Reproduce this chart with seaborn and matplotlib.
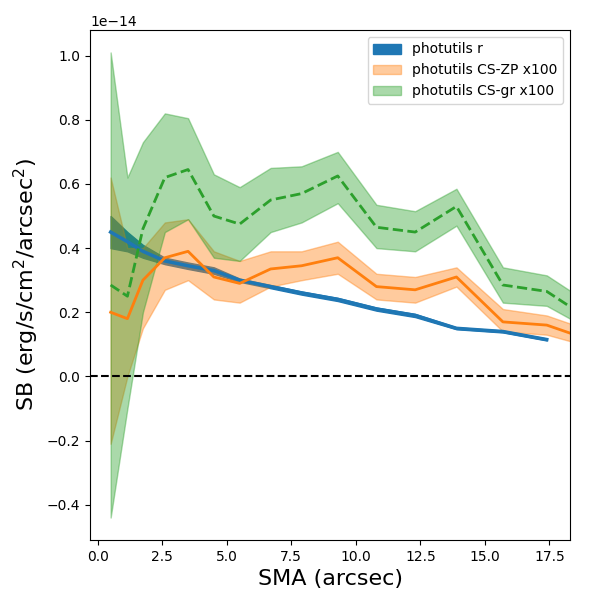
import matplotlib
matplotlib.use("Agg")
import matplotlib.pyplot as plt
import numpy as np
import seaborn as sns

sma = [0.5, 1.15, 1.75, 2.6, 3.5, 4.5, 5.5, 6.7, 7.9, 9.3, 10.8, 12.3, 13.9, 15.7, 17.4, 19.2]

r_mid = [0.45, 0.42, 0.39, 0.36, 0.345, 0.33, 0.30, 0.28, 0.26, 0.24, 0.21, 0.19, 0.15, 0.14, 0.115]
r_lo = [0.40, 0.39, 0.37, 0.35, 0.335, 0.32, 0.295, 0.275, 0.255, 0.235, 0.205, 0.185, 0.147, 0.137, 0.112]
r_hi = [0.50, 0.45, 0.41, 0.37, 0.355, 0.34, 0.305, 0.285, 0.265, 0.245, 0.215, 0.195, 0.153, 0.143, 0.118]

zp_mid = [0.20, 0.18, 0.30, 0.37, 0.39, 0.31, 0.29, 0.335, 0.345, 0.37, 0.28, 0.27, 0.31, 0.17, 0.16, 0.11]
zp_hi = [0.62, 0.40, 0.40, 0.48, 0.49, 0.39, 0.36, 0.39, 0.39, 0.42, 0.32, 0.31, 0.34, 0.21, 0.19, 0.14]
zp_lo = [-0.21, 0.00, 0.15, 0.27, 0.30, 0.24, 0.23, 0.28, 0.30, 0.32, 0.24, 0.23, 0.28, 0.14, 0.13, 0.09]

gr_mid = [0.285, 0.25, 0.46, 0.62, 0.645, 0.50, 0.475, 0.55, 0.57, 0.625, 0.465, 0.45, 0.53, 0.285, 0.265, 0.17]
gr_hi = [1.01, 0.62, 0.73, 0.82, 0.805, 0.63, 0.59, 0.65, 0.655, 0.70, 0.535, 0.515, 0.585, 0.34, 0.315, 0.22]
gr_lo = [-0.44, -0.10, 0.20, 0.45, 0.49, 0.37, 0.36, 0.45, 0.48, 0.54, 0.40, 0.39, 0.47, 0.23, 0.22, 0.14]

scale = 1e-14
sc = lambda a: np.array(a) * scale
c = sns.color_palette("tab10")

fig, ax = plt.subplots(figsize=(6, 6), dpi=100)
xr = sma[:len(r_mid)]
ax.fill_between(xr, sc(r_lo), sc(r_hi), color=c[0], alpha=1.0, label="photutils r")
ax.fill_between(sma, sc(zp_lo), sc(zp_hi), color=c[1], alpha=0.4, label="photutils CS-ZP x100")
ax.fill_between(sma, sc(gr_lo), sc(gr_hi), color=c[2], alpha=0.4, label="photutils CS-gr x100")
sns.lineplot(x=xr, y=sc(r_mid), color=c[0], lw=2.5, ax=ax)
sns.lineplot(x=sma, y=sc(zp_mid), color=c[1], lw=2, ax=ax)
sns.lineplot(x=sma, y=sc(gr_mid), color=c[2], lw=2, ls="--", ax=ax)
ax.axhline(0, color="k", ls="--")
ax.set_xlim(-0.3, 18.3)
ax.set_ylim(-0.51e-14, 1.08e-14)
ax.set_xlabel("SMA (arcsec)", fontsize=16)
ax.set_ylabel("SB (erg/s/cm$^2$/arcsec$^2$)", fontsize=16)
ax.legend(loc="upper right")
fig.subplots_adjust(left=0.15, right=0.95, top=0.95, bottom=0.10)
fig.savefig("out.png")
